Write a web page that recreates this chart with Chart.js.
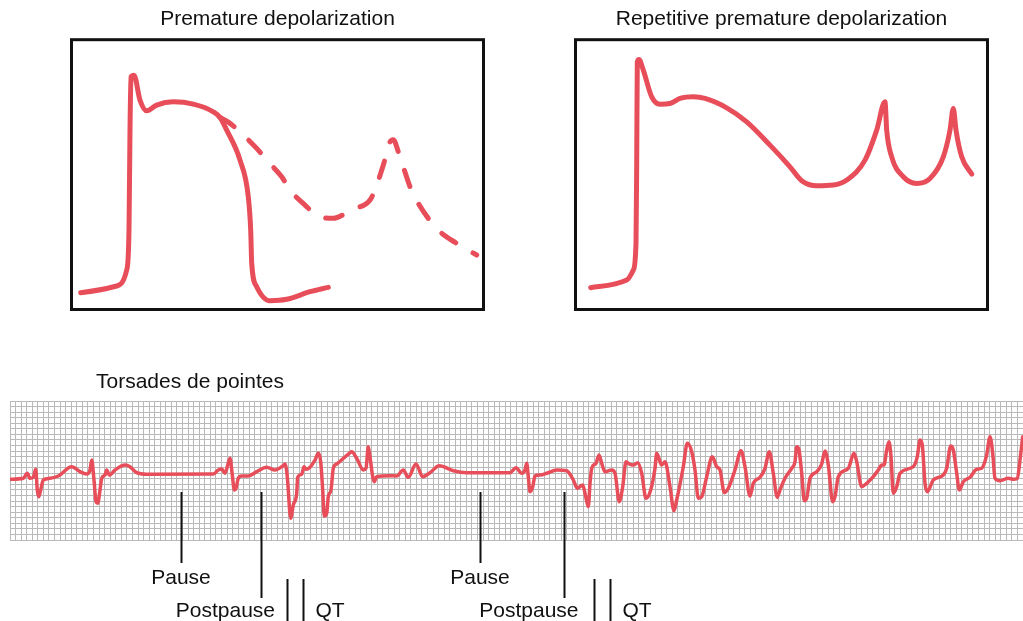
<!DOCTYPE html>
<html>
<head>
<meta charset="utf-8">
<script src="https://cdn.jsdelivr.net/npm/chart.js@4.4.1/dist/chart.umd.min.js"></script>
<style>
  html, body { margin: 0; padding: 0; background: #fff; }
  body { width: 1023px; height: 621px; position: relative; overflow: hidden; }
  canvas { position: absolute; }
</style>
</head>
<body>
<canvas id="p1" width="475" height="320" style="left:40px;top:0px;"></canvas>
<canvas id="p2" width="475" height="320" style="left:544px;top:0px;"></canvas>
<canvas id="ecg" width="1023" height="261" style="left:0px;top:360px;"></canvas>
<script>
// ---------- Data (arbitrary units) ----------
// Panel 1: Premature depolarization
const p1Title = 'Premature depolarization';
const p1SolidX = [7.7,43.7,53.7,56,57,58,61,67,73.7,83.7,100.3,120.3,140.3,147,153.7,167,175.3,177.7,178.7,183.7,197,213.7,237,255.3];
const p1SolidY = [15.3,22,38,78,178,231.3,233,208,197.3,203,206.3,204,196.3,190.7,178,148,111.3,78,45,21.3,7.3,8.7,16.3,20.7];
const p1DashX = [147,155.3,168.7,183.7,195.3,208.7,217,232,245.3,260.3,273.7,280.3,297,303.7,310.3,317,320.3,325.3,330.3,337,345.3,355.3,367,383.7,403.7];
const p1DashY = [190.7,186,174.7,159.7,146.3,131.3,118,103,92,89.7,95.3,99,108,123,143,166.3,168.5,156.3,141.3,121.3,104.7,89.7,76.3,64.7,53];

// Panel 2: Repetitive premature depolarization
const p2Title = 'Repetitive premature depolarization';
const p2X = [13.7,49.7,56.3,59,59.7,60.3,62,66.3,74.7,83,93,103,116.3,128,149.7,169.7,193,213,224.7,239.7,256.3,269.7,288,299.7,308,309.7,314.7,326.3,339.7,353,366.3,373,376.3,379,384.7,394.7];
const p2Y = [20.3,28,38,65,145,246.3,248.7,238,211.3,204,204.7,209.7,211.3,209.7,200.3,186.3,163,141.3,127.3,122.3,123,128,148,178,206.3,178,151.3,131.3,124.7,129.7,151.3,178,199.7,178,151.3,134];

// ECG strip: Torsades de pointes
const ecgTitle = 'Torsades de pointes';
const ecgX = [
  0,13.3,17.3,20,23.3,25.7,27.3,28.7,30.7,33.3,
  40,48.3,61.7,70,76.7,80,81.7,84,86,87.7,
  90,91.7,95,96.7,99.3,105,115,120,126.7,136.7,
  203.3,208.3,211.7,215,220,222.3,224.3,226,228.3,231.7,
  238.3,246.7,256.7,265,272.7,275,277.3,280.7,283.3,286.7,
  287.7,291.7,294,296,300,305,308.3,310.7,312.7,314.3,
  316.7,318.3,321,323.3,326.7,339.3,341.7,346.7,353.3,356,
  358.3,360,362.7,364.3,366.7,380,386.7,393.3,398.3,406,
  412.7,420,429.3,443.3,456.7,500,506,511.7,515,516.7,
  518.3,520,522.7,525,530,536.7,546.7,556.7,563.3,567.3,
  572.7,575.7,578.3,580,581.7,586,589,591.7,595,601.7,
  605,609.3,612.7,616,619.3,623.3,627.7,631.7,636,640.7,
  645,646.7,651.7,655,660,664,666.7,673.3,677.3,681.7,
  685,688.3,691.7,696.7,702.3,706.7,710,714.3,718.3,725,
  731,735,740,743.3,750,755,759.3,763.3,767.3,770,
  775,781.7,785,786.7,789,791.7,794.3,796.7,800,806.7,
  811.7,815,818.3,822.7,825,828.3,838.3,844,846.7,851.7,
  856.7,863.3,868.3,871.7,874,876.7,879,881,883.3,886.7,
  890,903.3,907.3,910,912.3,915,917.3,923.3,933.3,936.7,
  940.7,943.3,946.7,949.3,953.3,960,966.7,971.7,976.7,980,
  982.7,985,990,998.3,1003.3,1007.3,1010,1012.7
];
const ecgY = [
  60.7,61.7,66.7,61.7,62.7,70.7,50,43.3,50,60,
  61.7,64,73.3,68.3,66,70,80,60,38.3,36.7,
  50,61.7,65,70,65,70,75,73.3,67.3,65.7,
  66,70,71,66.7,81.7,65,50,51.7,61.7,64,
  64,68.3,72.7,70,74,76,63.3,21.7,35,46.7,
  62.7,65.7,73.3,70.7,72.7,80,86.7,78.3,50,24,
  26.7,43.3,50,71.7,76,86.7,88.3,81.7,70,71.7,
  93.3,83.3,63.3,58.3,63.3,64.3,64,70,62.7,76,
  63.3,67.3,74.3,69.3,67.3,67.3,72.3,66.7,70,76.7,
  63.3,48.3,53.3,64,65,66.7,70,69.3,60,51.7,
  55,43.3,33.3,56.7,71.7,76.7,85,76.7,68.3,70,
  66.7,38.3,53.3,78.3,76,75,77.3,66.7,41.7,50,
  71.7,86.7,75,78.3,53.3,29.3,40,73.3,96.7,88.3,
  70,41.7,43.3,63.3,83.3,73.3,70,47.3,51.7,70,
  89.3,73.3,44,56.7,62.7,71.7,88.3,66.7,42.7,50,
  61.7,71.7,78.3,93.3,90,66.7,39.3,41.7,61.7,68.3,
  76,89,75,38.3,43.3,63.3,71.7,86.7,78.3,53.3,
  56.7,63.3,70,75,75,90,98.3,83.3,46.7,53.3,
  66.7,73.3,83.3,100,95,56.7,48.3,60,65,71.7,
  94,90,66.7,50,58.3,62.7,70.7,71.7,85,103.3,
  86.7,61.7,59.3,61.7,60.7,61.7,80,103.3
];

// Annotation marks on the strip (x in strip units)
const pauseMarks = [171, 470];
const postpauseMarks = [250.5, 554];
const qtMarks = [[277, 293], [584, 600]];
const pauseLabel = 'Pause';
const postpauseLabel = 'Postpause';
const qtLabel = 'QT';

// ---------- Styles ----------
const RED = '#E84E5A';
const INK = '#111111';
const FONT = "'Liberation Sans', Arial, Helvetica, sans-serif";
Chart.defaults.font.family = FONT;
Chart.defaults.color = INK;

const zip = (xs, ys) => xs.map((x, i) => ({x: x, y: ys[i]}));

const boxBorder = {
  id: 'boxBorder',
  afterDraw(chart) {
    const {ctx, chartArea: a} = chart;
    ctx.save();
    ctx.strokeStyle = INK;
    ctx.lineWidth = 3;
    ctx.strokeRect(a.left - 1.5, a.top - 1.5, a.width + 3, a.height + 3);
    ctx.restore();
  }
};

function panelOptions(title) {
  return {
    responsive: false,
    animation: false,
    layout: { padding: { left: 33, right: 33, top: 0, bottom: 12 } },
    plugins: {
      legend: { display: false },
      tooltip: { enabled: false },
      title: {
        display: true, text: title, color: INK,
        font: { size: 21, weight: 'normal', family: FONT },
        padding: { top: 7, bottom: 9 }
      }
    },
    scales: {
      x: { type: 'linear', min: 0, max: 409, display: false },
      y: { type: 'linear', min: 0, max: 267, display: false }
    },
    elements: { point: { radius: 0 } }
  };
}

const lineStyle = {
  borderColor: RED, borderWidth: 5, pointRadius: 0, fill: false,
  cubicInterpolationMode: 'monotone', borderCapStyle: 'round', borderJoinStyle: 'round'
};

new Chart(document.getElementById('p1'), {
  type: 'line',
  data: {
    datasets: [
      Object.assign({ data: zip(p1SolidX, p1SolidY) }, lineStyle),
      Object.assign({ data: zip(p1DashX, p1DashY), borderDash: [17, 20] }, lineStyle)
    ]
  },
  options: panelOptions(p1Title),
  plugins: [boxBorder]
});

new Chart(document.getElementById('p2'), {
  type: 'line',
  data: { datasets: [ Object.assign({ data: zip(p2X, p2Y) }, lineStyle) ] },
  options: panelOptions(p2Title),
  plugins: [boxBorder]
});

const ecgAnnotations = {
  id: 'ecgAnnotations',
  afterDraw(chart) {
    const {ctx, chartArea: a, scales: {x, y}} = chart;
    ctx.save();
    ctx.fillStyle = INK;
    ctx.strokeStyle = INK;
    ctx.lineWidth = 2;
    ctx.font = '21px ' + FONT;
    ctx.textBaseline = 'alphabetic';
    // strip title
    ctx.textAlign = 'left';
    ctx.fillText(ecgTitle, a.left + 86, a.top - 13);
    const vline = (px, y0, y1) => {
      const xx = Math.round(px) + 0.5;
      ctx.beginPath(); ctx.moveTo(xx, y0); ctx.lineTo(xx, y1); ctx.stroke();
    };
    const top = y.getPixelForValue(48);
    pauseMarks.forEach(v => {
      const px = x.getPixelForValue(v);
      vline(px, top, a.bottom + 23);
      ctx.textAlign = 'center';
      ctx.fillText(pauseLabel, px, a.bottom + 44);
    });
    postpauseMarks.forEach(v => {
      const px = x.getPixelForValue(v);
      vline(px, top, a.bottom + 58);
      ctx.textAlign = 'right';
      ctx.fillText(postpauseLabel, px + 14.5, a.bottom + 77);
    });
    qtMarks.forEach(pair => {
      const p0 = x.getPixelForValue(pair[0]);
      const p1 = x.getPixelForValue(pair[1]);
      vline(p0, a.bottom + 39, a.bottom + 81);
      vline(p1, a.bottom + 39, a.bottom + 81);
      ctx.textAlign = 'left';
      ctx.fillText(qtLabel, p1 + 12.5, a.bottom + 77);
    });
    ctx.restore();
  }
};

const gridStyle = { color: '#b9b9b9', lineWidth: 1, drawTicks: false };

new Chart(document.getElementById('ecg'), {
  type: 'line',
  data: {
    datasets: [{
      data: zip(ecgX, ecgY), borderColor: RED, borderWidth: 3.5, pointRadius: 0,
      fill: false, cubicInterpolationMode: 'monotone',
      borderCapStyle: 'round', borderJoinStyle: 'round'
    }]
  },
  options: {
    responsive: false,
    animation: false,
    layout: { padding: { left: 10, right: 0, top: 41, bottom: 81 } },
    plugins: { legend: { display: false }, tooltip: { enabled: false }, title: { display: false } },
    scales: {
      x: { type: 'linear', min: 0, max: 1013, ticks: { display: false, stepSize: 1013 / 182 },
           grid: gridStyle, border: { display: false } },
      y: { type: 'linear', min: 0, max: 139, ticks: { display: false, stepSize: 139 / 25 },
           grid: gridStyle, border: { display: false } }
    }
  },
  plugins: [ecgAnnotations]
});
</script>
</body>
</html>
